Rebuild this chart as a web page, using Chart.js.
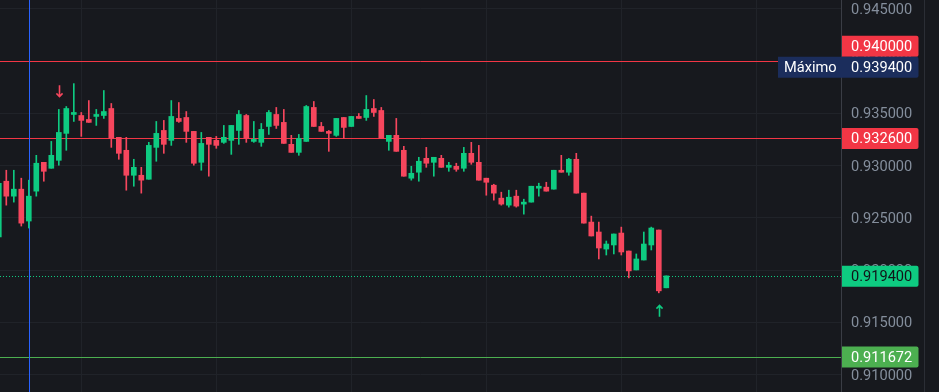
<!DOCTYPE html>
<html><head><meta charset="utf-8">
<script src="https://cdn.jsdelivr.net/npm/chart.js@4.4.0/dist/chart.umd.min.js"></script>
<style>html,body{margin:0;padding:0;background:#17191e;overflow:hidden}#wrap{width:939px;height:392px;position:relative}</style>
</head><body><div id="wrap"><canvas id="c" width="939" height="392"></canvas></div>
<script>
// OHLC per candle (index 0 = leftmost, partly cut off)
const opens = [0.92316,0.92850,0.92707,0.92774,0.92469,0.92755,0.93031,0.92974,0.93050,0.93308,
0.93489,0.93479,0.93441,0.93470,0.93479,0.93546,0.93270,0.93146,0.92907,0.92907,
0.92869,0.93174,0.93336,0.93241,0.93451,0.93460,0.93327,0.93031,0.93270,0.93241,
0.93222,0.93241,0.93336,0.93479,0.93231,0.93222,0.93374,0.93489,0.93413,0.93203,
0.93126,0.93231,0.93556,0.93374,0.93327,0.93289,0.93460,0.93374,0.93470,0.93460,
0.93546,0.93527,0.93231,0.93289,0.93146,0.92879,0.92936,0.93069,0.93031,0.93069,
0.92983,0.92993,0.92974,0.93117,0.93031,0.92879,0.92812,0.92688,0.92621,0.92707,
0.92631,0.92650,0.92783,0.92793,0.92774,0.92955,0.92936,0.93060,0.92736,0.92459,
0.92364,0.92201,0.92240,0.92354,0.92182,0.92001,0.92096,0.92240,0.92383,0.91830];
const highs = [0.92850,0.92955,0.92955,0.92879,0.92860,0.93098,0.93031,0.93231,0.93537,0.93565,
0.93784,0.93508,0.93622,0.93537,0.93718,0.93594,0.93270,0.93270,0.93060,0.92983,
0.93222,0.93422,0.93432,0.93622,0.93603,0.93517,0.93327,0.93317,0.93270,0.93279,
0.93384,0.93384,0.93527,0.93489,0.93422,0.93403,0.93527,0.93556,0.93537,0.93289,
0.93298,0.93575,0.93613,0.93413,0.93336,0.93451,0.93460,0.93470,0.93498,0.93670,
0.93632,0.93556,0.93289,0.93451,0.93184,0.92993,0.93079,0.93174,0.93079,0.93098,
0.93031,0.93022,0.93174,0.93222,0.93193,0.92879,0.92821,0.92745,0.92764,0.92764,
0.92678,0.92802,0.92831,0.92840,0.92955,0.93098,0.93069,0.93117,0.92736,0.92516,
0.92459,0.92278,0.92345,0.92411,0.92182,0.92154,0.92364,0.92411,0.92383,0.91944];
const lows = [0.92297,0.92621,0.92650,0.92421,0.92402,0.92707,0.92850,0.92974,0.93003,0.93146,
0.93422,0.93279,0.93413,0.93384,0.93451,0.93174,0.93060,0.92764,0.92802,0.92736,
0.92869,0.93041,0.93117,0.93193,0.93413,0.93222,0.93003,0.92955,0.92898,0.93165,
0.93212,0.93107,0.93203,0.93222,0.93222,0.93184,0.93298,0.93355,0.93212,0.93126,
0.93098,0.93231,0.93374,0.93327,0.93136,0.93279,0.93260,0.93374,0.93451,0.93432,
0.93470,0.93260,0.93146,0.93136,0.92898,0.92860,0.92850,0.92983,0.92898,0.92983,
0.92945,0.92945,0.92945,0.93012,0.92860,0.92716,0.92669,0.92621,0.92602,0.92602,
0.92535,0.92650,0.92707,0.92755,0.92774,0.92936,0.92907,0.92736,0.92449,0.92326,
0.92106,0.92144,0.92154,0.92144,0.91925,0.92001,0.92096,0.92192,0.91782,0.91830];
const closes = [0.92831,0.92707,0.92774,0.92449,0.92707,0.93022,0.92945,0.93098,0.93317,0.93546,
0.93508,0.93432,0.93413,0.93489,0.93517,0.93260,0.93117,0.92907,0.92983,0.92860,
0.93193,0.93308,0.93203,0.93470,0.93422,0.93327,0.93022,0.93212,0.93203,0.93193,
0.93270,0.93384,0.93489,0.93260,0.93250,0.93346,0.93508,0.93384,0.93212,0.93126,
0.93260,0.93565,0.93374,0.93327,0.93308,0.93451,0.93365,0.93470,0.93451,0.93537,
0.93508,0.93260,0.93289,0.93136,0.92898,0.92926,0.93041,0.93022,0.93079,0.92983,
0.93003,0.92964,0.93117,0.93031,0.92860,0.92840,0.92736,0.92631,0.92697,0.92612,
0.92650,0.92802,0.92802,0.92755,0.92955,0.92936,0.93060,0.92736,0.92449,0.92326,
0.92211,0.92249,0.92345,0.92173,0.91992,0.92106,0.92249,0.92402,0.91801,0.91944];

const priceTicks = [0.910, 0.915, 0.920, 0.925, 0.930, 0.935, 0.940, 0.945];
const gridCandles = [2, 20, 38, 56, 74, 92, 110];
const maxValue = 0.9394;          // "Máximo"
const minValue = 0.911672;        // low line
const lastPrice = 0.9194;         // last close (dotted)
const level1 = 0.9400;            // red line
const level2 = 0.9326;            // red line
const crossCandle = 4;            // blue vertical line
const arrowDownCandle = 8;
const arrowUpCandle = 88;

const GREEN = '#0ecb81', RED = '#f6465d', LRED = '#f23645';
const FONT = 'Roboto';
const FSIZE = 14.6;
const idx = opens.map((_, i) => i);
const colors = idx.map(i => closes[i] >= opens[i] ? GREEN : RED);

const overlay = {
  id: 'overlay',
  beforeDraw(chart) {
    const c = chart.ctx;
    c.save(); c.fillStyle = '#17191e'; c.fillRect(0, 0, chart.width, chart.height); c.restore();
  },
  beforeDatasetsDraw(chart) {
    const c = chart.ctx, a = chart.chartArea, y = chart.scales.y, x = chart.scales.x;
    c.save();
    c.beginPath(); c.rect(a.left, a.top, a.right - a.left, a.bottom - a.top); c.clip();
    const hline = (v, col, dash) => {
      const py = Math.round(y.getPixelForValue(v)) + 0.5;
      c.beginPath(); c.strokeStyle = col; c.lineWidth = 1; c.setLineDash(dash || []);
      c.moveTo(a.left, py); c.lineTo(a.right, py); c.stroke();
    };
    hline(level1, LRED);
    hline(level2, LRED);
    hline(minValue, '#4caf50');
    hline(lastPrice, GREEN, [1, 2]);
    const px = Math.round(x.getPixelForValue(crossCandle)) + 0.5;
    c.setLineDash([]);
    c.beginPath(); c.strokeStyle = '#2962ff'; c.moveTo(px, a.top); c.lineTo(px, a.bottom); c.stroke();
    c.restore();
  },
  afterDatasetsDraw(chart) {
    const c = chart.ctx, y = chart.scales.y, x = chart.scales.x;
    const arrow = (i, up) => {
      const px = Math.round(x.getPixelForValue(i)) + 0.5;
      const base = up ? y.getPixelForValue(lows[i]) + 12 : y.getPixelForValue(highs[i]) - 12;
      const tip = Math.round(base), tail = up ? tip + 11 : tip - 11;
      const d = up ? 1 : -1;
      c.save(); c.strokeStyle = up ? GREEN : RED; c.lineWidth = 1.6; c.lineCap = 'square';
      c.beginPath(); c.moveTo(px, tail); c.lineTo(px, tip + d);
      c.moveTo(px - 2.5, tip + 3 * d); c.lineTo(px, tip + 0.5 * d); c.lineTo(px + 2.5, tip + 3 * d);
      c.stroke(); c.restore();
    };
    arrow(arrowDownCandle, false);
    arrow(arrowUpCandle, true);
  },
  afterDraw(chart) {
    const c = chart.ctx, y = chart.scales.y, a = chart.chartArea;
    c.save();
    c.strokeStyle = '#2b2e35'; c.lineWidth = 1;
    c.beginPath(); c.moveTo(924.5, 0); c.lineTo(924.5, chart.height); c.stroke();
    const H = 21, L = a.right + 1, R = 918.5;
    const box = (cy, bg, fg, txt, tag) => {
      const top = cy - H / 2;
      const left = tag ? 778 : L;
      c.fillStyle = bg;
      c.beginPath();
      c.moveTo(left, top); c.lineTo(R - 2, top); c.quadraticCurveTo(R, top, R, top + 2);
      c.lineTo(R, top + H - 2); c.quadraticCurveTo(R, top + H, R - 2, top + H); c.lineTo(left, top + H);
      c.closePath(); c.fill();
      c.fillStyle = fg; c.font = FSIZE + 'px ' + FONT; c.textBaseline = 'middle'; c.textAlign = 'left';
      c.fillText(txt, 851, cy + 1);
      if (tag) c.fillText(tag, 784, cy + 1);
    };
    const yMax = y.getPixelForValue(maxValue);
    let y1 = y.getPixelForValue(level1);
    if (y1 + H / 2 > yMax - H / 2) y1 = yMax - H;
    box(y1, LRED, '#ffffff', level1.toFixed(6));
    box(yMax, '#1b2d5c', '#ffffff', maxValue.toFixed(6), 'Máximo');
    box(y.getPixelForValue(level2), LRED, '#ffffff', level2.toFixed(6));
    box(y.getPixelForValue(lastPrice), GREEN, '#111418', lastPrice.toFixed(6));
    box(y.getPixelForValue(minValue), '#4caf50', '#ffffff', minValue.toFixed(6));
    c.restore();
  }
};

new Chart(document.getElementById('c'), {
  type: 'bar',
  data: {
    datasets: [
      { label: 'body', data: idx.map(i => ({ x: i, y: [opens[i], closes[i]] })),
        backgroundColor: colors, barThickness: 5, grouped: false, minBarLength: 1, order: 0 },
      { label: 'wick', data: idx.map(i => ({ x: i, y: [lows[i], highs[i]] })),
        backgroundColor: colors, barThickness: 1, grouped: false, order: 1 }
    ]
  },
  options: {
    responsive: false, animation: false, devicePixelRatio: 1,
    layout: { padding: 0 },
    plugins: { legend: { display: false }, tooltip: { enabled: false } },
    scales: {
      x: {
        type: 'linear', min: 0.16, max: 112.293, offset: false,
        grid: { color: '#202329', drawTicks: false },
        border: { display: false },
        ticks: { display: false },
        afterBuildTicks: s => { s.ticks = gridCandles.map(v => ({ value: v })); },
        afterFit: s => { s.height = 0; s.paddingLeft = 0; s.paddingRight = 0; }
      },
      y: {
        position: 'right', min: 0.908330, max: 0.945842,
        grid: { color: '#202329', drawTicks: false },
        border: { display: true, color: '#3a3d45', width: 1 },
        ticks: { padding: 10, color: '#848e9c', font: { family: FONT, size: FSIZE }, labelOffset: 1.5,
                 callback: v => Number(v).toFixed(6) },
        afterBuildTicks: s => { s.ticks = priceTicks.map(v => ({ value: v })); },
        afterFit: s => { s.width = 98; s.paddingTop = 0; s.paddingBottom = 0; }
      }
    }
  },
  plugins: [overlay]
});
</script></body></html>
